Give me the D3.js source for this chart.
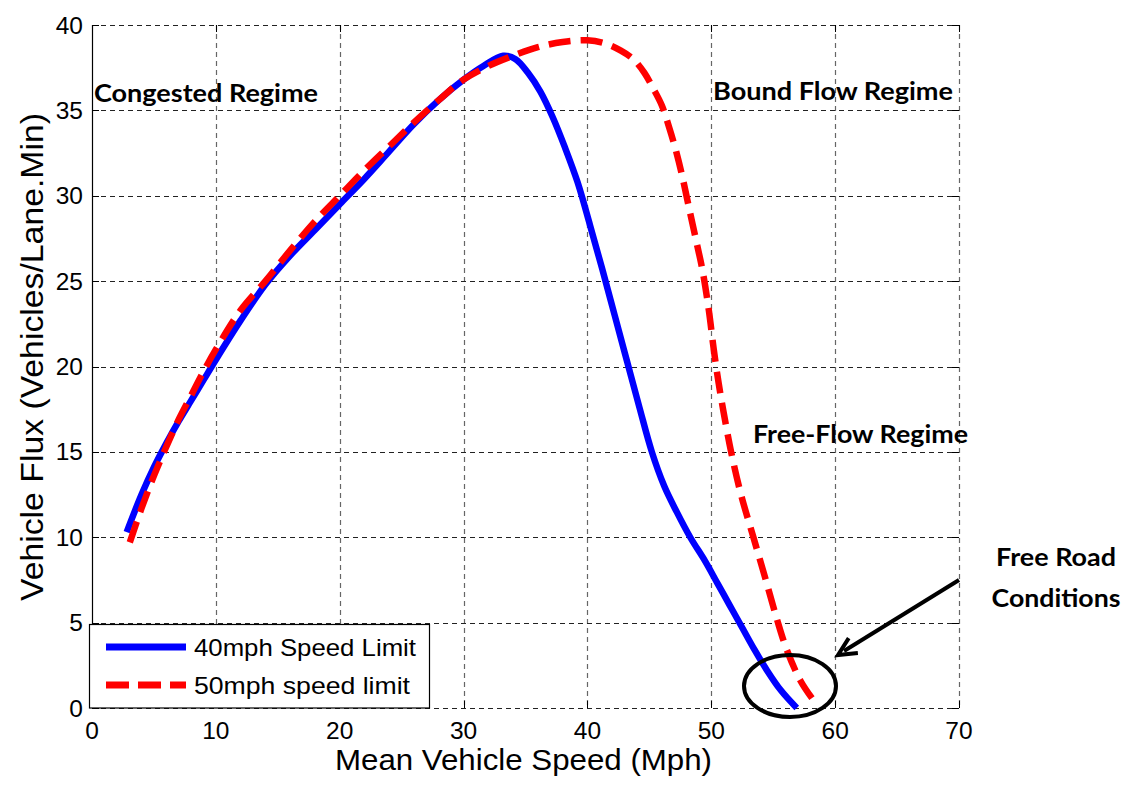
<!DOCTYPE html>
<html>
<head>
<meta charset="utf-8">
<script src="https://cdn.jsdelivr.net/npm/d3@7"></script>
<style>
  html, body { margin: 0; padding: 0; background: #fff; }
  svg { display: block; }
</style>
</head>
<body>
<svg id="chart" width="1131" height="785"></svg>
<script>
// ---------------- DATA ----------------
const xTicks = [0, 10, 20, 30, 40, 50, 60, 70];
const yTicks = [0, 5, 10, 15, 20, 25, 30, 35, 40];

const seriesNames = ["40mph Speed Limit", "50mph speed limit"];

// 40 mph speed limit: speed (mph) and flux (vehicles/lane.min)
const speed40 = [2.8, 4, 5, 6, 7, 8, 9, 10, 12, 14, 16, 18, 20, 22, 24, 26, 28, 30, 31.6, 33.2, 34.2, 35.2, 36.2, 37.2, 38.2, 39.2, 40.2, 41.2, 42.2, 43.2, 44.2, 45.2, 46.2, 47.2, 48.3, 49.5, 50.5, 51.5, 52.5, 53.5, 54.5, 55.6, 56.9];
const flux40  = [10.3, 12.5, 14.1, 15.5, 16.8, 18.0, 19.2, 20.4, 22.7, 24.8, 26.5, 28.0, 29.5, 31.0, 32.6, 34.2, 35.6, 36.8, 37.6, 38.2, 38.0, 37.2, 36.1, 34.6, 32.8, 30.8, 28.3, 25.7, 23.0, 20.3, 17.6, 15.0, 13.0, 11.5, 10.0, 8.6, 7.3, 6.0, 4.7, 3.4, 2.2, 1.05, 0.0];

// 50 mph speed limit: speed (mph) and flux (vehicles/lane.min)
const speed50 = [3.05, 4, 5, 6, 7, 8, 9, 10, 12, 14, 16, 18, 20, 22, 24, 26, 28, 30, 32, 34, 36, 38, 40, 41.5, 42.7, 43.7, 44.6, 45.3, 46.0, 46.6, 47.2, 47.7, 48.2, 48.8, 49.3, 49.8, 50.2, 50.6, 51.0, 51.6, 52.4, 53.4, 54.4, 55.3, 56.1, 57.2, 58.3];
const flux50  = [9.7, 11.7, 13.6, 15.3, 16.9, 18.3, 19.7, 21.0, 23.3, 25.0, 26.8, 28.5, 30.0, 31.5, 32.9, 34.3, 35.6, 36.8, 37.6, 38.2, 38.7, 39.0, 39.1, 38.9, 38.5, 38.0, 37.2, 36.3, 35.3, 34.0, 32.5, 31.0, 29.3, 27.3, 25.6, 23.3, 21.0, 19.0, 17.3, 15.0, 12.5, 10.0, 7.5, 5.2, 3.4, 1.6, 0.4];

const regimeLabels = ["Congested Regime", "Bound Flow Regime", "Free-Flow Regime"];
const annotationLines = ["Free Road", "Conditions"];

// ---------------- LAYOUT ----------------
const svg = d3.select("#chart");
const L = 92, R = 959, T = 25, B = 708;

const x = d3.scaleLinear().domain([0, 70]).range([L, R]);
const y = d3.scaleLinear().domain([0, 40]).range([B, T]);

// grid
const grid = svg.append("g");
grid.selectAll("line.vg").data(xTicks.slice(1)).join("line")
  .attr("x1", d => Math.round(x(d)) + 0.5).attr("x2", d => Math.round(x(d)) + 0.5)
  .attr("y1", T).attr("y2", B)
  .attr("stroke", "#666").attr("stroke-width", 1.2).attr("stroke-dasharray", "5,4");
grid.selectAll("line.hg").data(yTicks).join("line")
  .attr("x1", L).attr("x2", R)
  .attr("y1", d => Math.round(y(d)) + 0.5).attr("y2", d => Math.round(y(d)) + 0.5)
  .attr("stroke", "#222").attr("stroke-width", 1).attr("stroke-dasharray", "5,4");

// left axis solid
svg.append("line").attr("x1", L + 0.5).attr("x2", L + 0.5).attr("y1", T).attr("y2", B)
  .attr("stroke", "#000").attr("stroke-width", 1.2);

// inward ticks
const tk = svg.append("g").attr("stroke", "#000").attr("stroke-width", 1);
tk.selectAll("line.rt").data(yTicks).join("line")
  .attr("x1", R - 7).attr("x2", R).attr("y1", d => Math.round(y(d)) + 0.5).attr("y2", d => Math.round(y(d)) + 0.5);
tk.selectAll("line.lt").data(yTicks).join("line")
  .attr("x1", L).attr("x2", L + 7).attr("y1", d => Math.round(y(d)) + 0.5).attr("y2", d => Math.round(y(d)) + 0.5);
tk.selectAll("line.bt").data(xTicks).join("line")
  .attr("x1", d => Math.round(x(d)) + 0.5).attr("x2", d => Math.round(x(d)) + 0.5).attr("y1", B - 7).attr("y2", B);
tk.selectAll("line.tt").data(xTicks).join("line")
  .attr("x1", d => Math.round(x(d)) + 0.5).attr("x2", d => Math.round(x(d)) + 0.5).attr("y1", T).attr("y2", T + 7);

// tick labels
const tickFont = "'Liberation Sans', Arial, sans-serif";
svg.append("g").selectAll("text").data(xTicks).join("text")
  .attr("x", d => x(d)).attr("y", 739)
  .attr("text-anchor", "middle").attr("font-family", tickFont).attr("font-size", 24.5)
  .text(d => d);
svg.append("g").selectAll("text").data(yTicks).join("text")
  .attr("x", 83).attr("y", d => y(d) + 8.5)
  .attr("text-anchor", "end").attr("font-family", tickFont).attr("font-size", 24.5)
  .text(d => d);

// axis titles
svg.append("text").attr("x", 335).attr("y", 770)
  .attr("textLength", 377).attr("lengthAdjust", "spacingAndGlyphs")
  .attr("font-family", tickFont).attr("font-size", 29).text("Mean Vehicle Speed (Mph)");
svg.append("text").attr("transform", "translate(43,601) rotate(-90)")
  .attr("textLength", 488).attr("lengthAdjust", "spacingAndGlyphs")
  .attr("font-family", tickFont).attr("font-size", 31).text("Vehicle Flux (Vehicles/Lane.Min)");

// ---------------- CURVES ----------------
const line = d3.line().x(d => x(d[0])).y(d => y(d[1])).curve(d3.curveCatmullRom.alpha(0.5));
const data40 = speed40.map((s, i) => [s, flux40[i]]);
const data50 = speed50.map((s, i) => [s, flux50[i]]);

svg.append("path").datum(data40).attr("d", line)
  .attr("fill", "none").attr("stroke", "#0000ff").attr("stroke-width", 6.5)
  .attr("stroke-linejoin", "round");
svg.append("path").datum(data50).attr("d", line)
  .attr("fill", "none").attr("stroke", "#ff0000").attr("stroke-width", 6.5)
  .attr("stroke-dasharray", "22,10");

// ---------------- ANNOTATIONS ----------------
const labFont = "Lato, 'Open Sans', sans-serif";
const regimePos = [[94, 102, 224], [713, 100, 240], [753, 443, 215]];
svg.append("g").selectAll("text").data(regimeLabels).join("text")
  .attr("x", (d, i) => regimePos[i][0]).attr("y", (d, i) => regimePos[i][1])
  .attr("textLength", (d, i) => regimePos[i][2]).attr("lengthAdjust", "spacingAndGlyphs")
  .attr("font-family", labFont).attr("font-weight", "bold").attr("font-size", 25)
  .text(d => d);

const annPos = [[1056, 566, 120], [1056, 607, 129]];
svg.append("g").selectAll("text").data(annotationLines).join("text")
  .attr("x", (d, i) => annPos[i][0] - annPos[i][2] / 2).attr("y", (d, i) => annPos[i][1])
  .attr("textLength", (d, i) => annPos[i][2]).attr("lengthAdjust", "spacingAndGlyphs")
  .attr("font-family", labFont).attr("font-weight", "bold").attr("font-size", 25)
  .text(d => d);

// ellipse
svg.append("ellipse").attr("cx", 790).attr("cy", 686).attr("rx", 46).attr("ry", 31)
  .attr("fill", "none").attr("stroke", "#000").attr("stroke-width", 4);

// arrow
const ax1 = 959, ay1 = 580, ax2 = 838, ay2 = 655;
svg.append("line").attr("x1", ax1).attr("y1", ay1).attr("x2", ax2 + 6).attr("y2", ay2 - 4)
  .attr("stroke", "#000").attr("stroke-width", 4);
const ang = Math.atan2(ay2 - ay1, ax2 - ax1);
const hl = 20, hw = 0.45;
const p1 = [ax2 - hl * Math.cos(ang - hw), ay2 - hl * Math.sin(ang - hw)];
const p2 = [ax2 - hl * Math.cos(ang + hw), ay2 - hl * Math.sin(ang + hw)];
svg.append("path").attr("d", `M${p1[0]},${p1[1]} L${ax2},${ay2} L${p2[0]},${p2[1]}`)
  .attr("fill", "none").attr("stroke", "#000").attr("stroke-width", 4).attr("stroke-linejoin", "miter");

// ---------------- LEGEND ----------------
const lg = svg.append("g");
lg.append("rect").attr("x", 89.5).attr("y", 624.5).attr("width", 340).attr("height", 83.5)
  .attr("fill", "#fff").attr("stroke", "#000").attr("stroke-width", 1.2);
const legY = [647, 685];
const legLen = [222, 216];
lg.append("line").attr("x1", 106).attr("x2", 186).attr("y1", legY[0]).attr("y2", legY[0])
  .attr("stroke", "#0000ff").attr("stroke-width", 7);
lg.append("line").attr("x1", 106).attr("x2", 186).attr("y1", legY[1]).attr("y2", legY[1])
  .attr("stroke", "#ff0000").attr("stroke-width", 7).attr("stroke-dasharray", "23,9");
lg.selectAll("text").data(seriesNames).join("text")
  .attr("x", 194).attr("y", (d, i) => legY[i] + 8.5)
  .attr("textLength", (d, i) => legLen[i]).attr("lengthAdjust", "spacingAndGlyphs")
  .attr("font-family", tickFont).attr("font-size", 24)
  .text(d => d);
</script>
</body>
</html>
